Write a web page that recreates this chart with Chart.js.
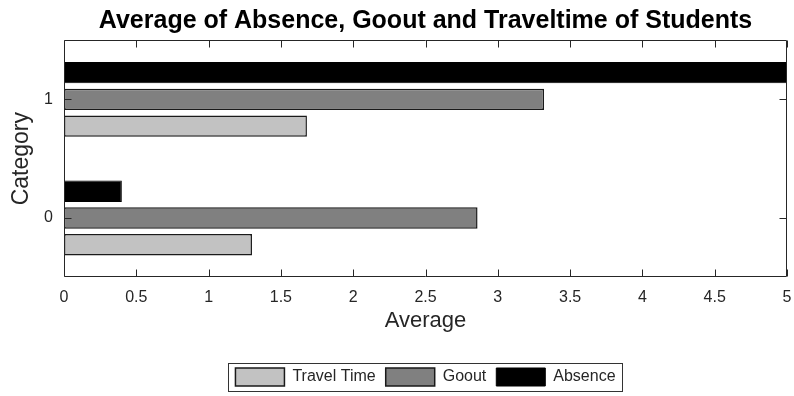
<!DOCTYPE html>
<html>
<head>
<meta charset="utf-8">
<script src="https://cdn.jsdelivr.net/npm/chart.js@4"></script>
<style>
html,body{margin:0;padding:0;background:#fff;}
#wrap{width:794px;height:396px;position:relative;}
</style>
</head>
<body>
<div id="wrap"><canvas id="c" width="794" height="396"></canvas></div>
<script>
const categories = ['1', '0'];
const travelTime = [1.68, 1.30];
const goout = [3.32, 2.86];
const absence = [5.6, 0.40];
const xTicks = [0, 0.5, 1, 1.5, 2, 2.5, 3, 3.5, 4, 4.5, 5];

const axisColor = '#262626';

const frame = {
  id: 'frame',
  afterDraw(chart) {
    const {ctx, chartArea: a, scales} = chart;
    const L = Math.round(a.left) + 0.5, R = Math.round(a.right) - 0.5;
    const T = Math.round(a.top) + 0.5, B = Math.round(a.bottom) - 0.5;
    ctx.save();
    ctx.strokeStyle = axisColor;
    ctx.lineWidth = 1;
    ctx.beginPath();
    ctx.moveTo(L, T); ctx.lineTo(R, T); ctx.lineTo(R, B); ctx.lineTo(L, B); ctx.closePath();
    const tl = 7;
    scales.x.ticks.forEach(t => {
      const px = Math.round(scales.x.getPixelForValue(t.value)) + 0.5;
      ctx.moveTo(px, B); ctx.lineTo(px, B - tl);
      ctx.moveTo(px, T); ctx.lineTo(px, T + tl);
    });
    scales.y.ticks.forEach((t, i) => {
      const py = Math.round(scales.y.getPixelForTick(i)) + 0.5;
      ctx.moveTo(L, py); ctx.lineTo(L + tl, py);
      ctx.moveTo(R, py); ctx.lineTo(R - tl, py);
    });
    ctx.stroke();
    const hb = chart.legend.legendHitBoxes;
    if (hb && hb.length) {
      const l = Math.min(...hb.map(h => h.left)) - 7;
      const r = Math.max(...hb.map(h => h.left + h.width)) + 7;
      const t = Math.min(...hb.map(h => h.top)) - 5;
      const b = Math.max(...hb.map(h => h.top + h.height)) + 5;
      ctx.strokeStyle = '#333';
      ctx.strokeRect(Math.round(l) + 0.5, Math.round(t) + 0.5, Math.round(r - l), Math.round(b - t));
    }
    ctx.restore();
  }
};

new Chart(document.getElementById('c'), {
  type: 'bar',
  data: {
    labels: categories,
    datasets: [
      {label: 'Absence', data: absence, backgroundColor: '#000000', borderColor: '#000000', borderWidth: 1, borderSkipped: false},
      {label: 'Goout', data: goout, backgroundColor: '#808080', borderColor: '#1a1a1a', borderWidth: 1.5, borderSkipped: false},
      {label: 'Travel Time', data: travelTime, backgroundColor: '#c2c2c2', borderColor: '#1a1a1a', borderWidth: 1.5, borderSkipped: false}
    ]
  },
  options: {
    indexAxis: 'y',
    responsive: false,
    animation: false,
    devicePixelRatio: 1,
    categoryPercentage: 0.676,
    barPercentage: 0.8,
    layout: {padding: {left: 4, right: 7, top: 0, bottom: 0}},
    scales: {
      x: {
        type: 'linear',
        min: 0, max: 5,
        afterBuildTicks(scale) { scale.ticks = xTicks.map(v => ({value: v})); },
        afterFit(scale) { scale.paddingLeft = 0; scale.paddingRight = 0; },
        border: {display: false},
        grid: {display: false, drawTicks: false},
        ticks: {color: axisColor, font: {family: 'Liberation Sans', size: 16}, padding: 11, maxRotation: 0, autoSkip: false,
          callback: v => String(v)},
        title: {display: true, text: 'Average', color: axisColor, font: {family: 'Liberation Sans', size: 22}, padding: {top: -10.5, bottom: 23.5}}
      },
      y: {
        type: 'category',
        offset: true,
        afterFit(scale) { scale.width = 60; },
        border: {display: false},
        grid: {display: false, drawTicks: false},
        ticks: {color: axisColor, font: {family: 'Liberation Sans', size: 16}, padding: 11},
        title: {display: true, text: 'Category', color: axisColor, font: {family: 'Liberation Sans', size: 23}, padding: {top: 4, bottom: 4}}
      }
    },
    plugins: {
      title: {display: true, fullSize: false, text: 'Average of Absence, Goout and Traveltime of Students', color: '#000', font: {family: 'Liberation Sans', size: 25, weight: 'bold'}, padding: {top: 6, bottom: 4}},
      legend: {
        position: 'bottom',
        fullSize: false,
        reverse: true,
        labels: {boxWidth: 49, boxHeight: 18, color: axisColor, font: {family: 'Liberation Sans', size: 16}, padding: 10},
      },
      tooltip: {enabled: false}
    }
  },
  plugins: [frame]
});
</script>
</body>
</html>
